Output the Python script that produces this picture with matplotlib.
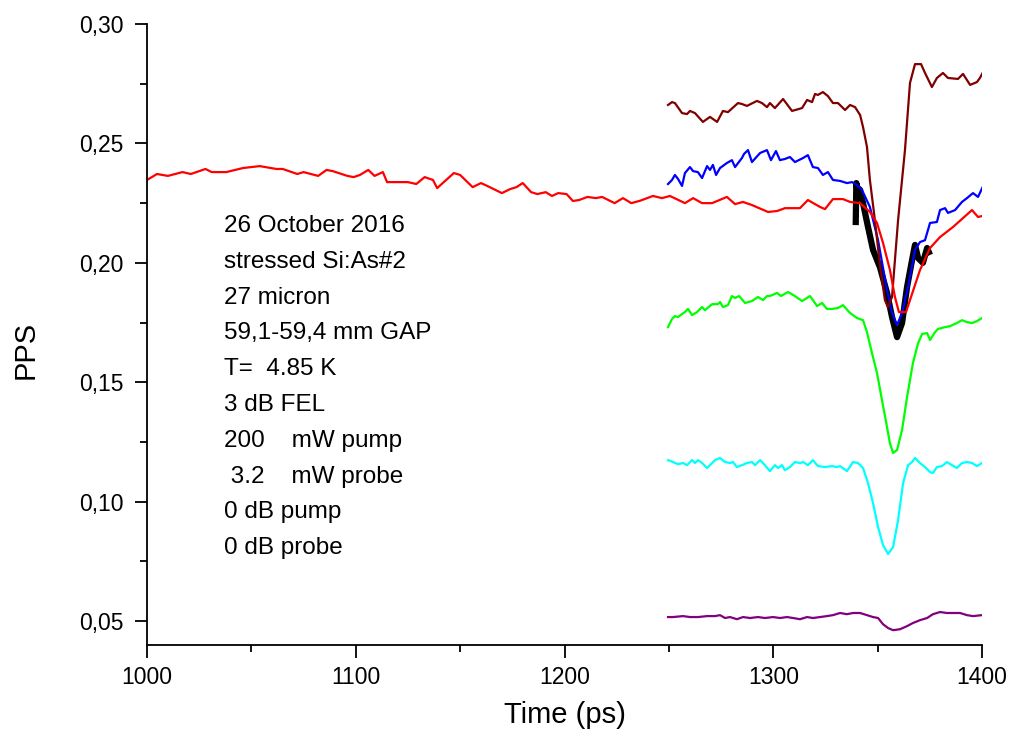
import matplotlib
matplotlib.use("Agg")
import matplotlib.pyplot as plt
from matplotlib.ticker import MultipleLocator, FuncFormatter

plt.rcParams['font.family'] = ['Liberation Sans', 'DejaVu Sans']

# red trace (long scan)
red_t = [1000, 1004.8, 1010, 1017, 1021, 1028, 1031, 1038, 1046, 1054, 1062, 1065, 1072, 1075,
         1082, 1086, 1089, 1096, 1099, 1102, 1106, 1109, 1113, 1115, 1125, 1129, 1133, 1137,
         1139, 1147, 1150, 1156, 1160, 1163, 1170, 1174, 1177, 1180, 1184, 1187, 1191, 1194,
         1197, 1201, 1204, 1207, 1211, 1215, 1218, 1224, 1228, 1232, 1236.2, 1242.4, 1246.7,
         1250.5, 1257.7, 1261.6, 1265.9, 1270.7, 1277.8, 1281.7, 1285.5, 1289.8, 1297.5,
         1301.8, 1305.6, 1312.8, 1316.6, 1322.4, 1324.8, 1328.6, 1333.4, 1336.8, 1341.6,
         1346.3, 1349.7, 1352.6, 1355.9, 1358.3, 1360.2, 1363.6, 1365.5, 1370.3, 1375.1,
         1379.9, 1386.1, 1395.2, 1398.1, 1400]
red_v = [0.2347, 0.2372, 0.2364, 0.2380, 0.2372, 0.2393, 0.2380, 0.2380, 0.2397, 0.2405, 0.2393,
         0.2393, 0.2372, 0.2380, 0.2364, 0.2389, 0.2384, 0.2364, 0.2359, 0.2368, 0.2389, 0.2364,
         0.2380, 0.2338, 0.2338, 0.2330, 0.2359, 0.2347, 0.2313, 0.2376, 0.2368, 0.2317, 0.2334,
         0.2322, 0.2292, 0.2309, 0.2317, 0.2334, 0.2296, 0.2288, 0.2296, 0.2280, 0.2292, 0.2288,
         0.2259, 0.2263, 0.2276, 0.2271, 0.2276, 0.2250, 0.2271, 0.2250, 0.2260, 0.2280, 0.2271,
         0.2280, 0.2250, 0.2271, 0.2250, 0.2250, 0.2276, 0.2246, 0.2255, 0.2242, 0.2213, 0.2217,
         0.2229, 0.2229, 0.2263, 0.2234, 0.2225, 0.2267, 0.2267, 0.2255, 0.2250, 0.2213, 0.2167,
         0.2083, 0.1970, 0.1857, 0.1794, 0.1794, 0.1844, 0.1970, 0.2062, 0.2108, 0.2150, 0.2221,
         0.2192, 0.2196]

# dark red trace
brown_t = [1249.6, 1251.5, 1252.9, 1256.3, 1258.7, 1260.1, 1262.5, 1266.3, 1269.7, 1273.1, 1275.9,
           1278.3, 1283.1, 1285.0, 1287.4, 1292.2, 1294.6, 1297.0, 1298.4, 1300.8, 1304.7, 1309.0,
           1313.8, 1316.2, 1318.6, 1320.0, 1321.4, 1323.8, 1326.2, 1328.6, 1331.0, 1334.4, 1336.8,
           1339.2, 1341.6, 1343.0, 1344.9, 1346.3, 1348.7, 1351.1, 1353.5, 1354.9, 1356.9, 1359.8,
           1363.1, 1365.5, 1367.9, 1370.8, 1372.7, 1376.0, 1378.4, 1381.3, 1383.7, 1388.5, 1390.9,
           1394.3, 1397.6, 1399.0, 1400.3]
brown_v = [0.2661, 0.2673, 0.2669, 0.2627, 0.2623, 0.2636, 0.2627, 0.2590, 0.2611, 0.2590, 0.2636,
           0.2631, 0.2669, 0.2665, 0.2657, 0.2678, 0.2669, 0.2652, 0.2669, 0.2648, 0.2686, 0.2636,
           0.2648, 0.2682, 0.2673, 0.2707, 0.2703, 0.2715, 0.2698, 0.2669, 0.2669, 0.2640, 0.2661,
           0.2652, 0.2619, 0.2569, 0.2485, 0.2347, 0.2179, 0.1991, 0.1844, 0.1815, 0.1857, 0.2179,
           0.2472, 0.2753, 0.2832, 0.2832, 0.2795, 0.2736, 0.2774, 0.2795, 0.2774, 0.2770, 0.2791,
           0.2745, 0.2757, 0.2774, 0.2795]

# blue trace
blue_t = [1249.6, 1251.5, 1252.9, 1254.4, 1256.3, 1257.7, 1260.1, 1261.6, 1263.9, 1265.9, 1268.3,
          1269.7, 1271.1, 1272.6, 1274.5, 1277.8, 1280.2, 1281.7, 1285.0, 1286.0, 1287.9, 1289.8,
          1293.7, 1297.0, 1298.9, 1301.3, 1303.2, 1305.6, 1308.0, 1310.4, 1314.3, 1316.6, 1319.0,
          1321.4, 1323.8, 1326.2, 1328.6, 1332.0, 1335.3, 1337.7, 1340.1, 1342.5, 1346.3, 1350.2,
          1354.5, 1356.9, 1359.3, 1361.7, 1364.6, 1367.9, 1370.3, 1372.7, 1375.1, 1378.4, 1379.9,
          1382.3, 1383.7, 1387.1, 1390.4, 1392.8, 1395.7, 1398.1, 1400.3]
blue_v = [0.2330, 0.2347, 0.2368, 0.2351, 0.2322, 0.2376, 0.2401, 0.2384, 0.2380, 0.2355, 0.2405,
          0.2389, 0.2410, 0.2368, 0.2397, 0.2418, 0.2430, 0.2401, 0.2439, 0.2456, 0.2472, 0.2422,
          0.2460, 0.2472, 0.2430, 0.2468, 0.2430, 0.2435, 0.2443, 0.2422, 0.2439, 0.2451, 0.2401,
          0.2397, 0.2368, 0.2380, 0.2347, 0.2343, 0.2334, 0.2338, 0.2326, 0.2305, 0.2234, 0.2095,
          0.1886, 0.1790, 0.1740, 0.1790, 0.1899, 0.2054, 0.2087, 0.2095, 0.2167, 0.2171, 0.2221,
          0.2229, 0.2209, 0.2221, 0.2255, 0.2271, 0.2292, 0.2276, 0.2317]

# black trace (short scan)
black_t = [1339.5, 1339.8, 1340.1, 1341.6, 1343.0, 1345.4, 1347.8, 1351.1, 1354.5, 1356.9, 1359.3,
           1361.7, 1364.1, 1366.5, 1367.9, 1369.4, 1371.7, 1373.7, 1375.1]
black_v = [0.2158, 0.2334, 0.2317, 0.2305, 0.2250, 0.2150, 0.2054, 0.1982, 0.1874, 0.1773, 0.1689,
           0.1748, 0.1899, 0.2012, 0.2075, 0.2020, 0.2000, 0.2062, 0.2033]

# green trace
green_t = [1249.6, 1251.5, 1252.9, 1254.4, 1256.3, 1257.7, 1259.2, 1261.1, 1263.5, 1265.9, 1267.3,
           1270.7, 1273.5, 1274.5, 1275.9, 1278.3, 1280.2, 1281.7, 1283.6, 1286.5, 1289.8, 1292.7,
           1295.1, 1297.0, 1298.4, 1301.8, 1303.7, 1307.1, 1310.4, 1313.8, 1317.6, 1321.0, 1323.4,
           1325.7, 1328.1, 1331.0, 1333.4, 1336.8, 1340.1, 1343.0, 1344.9, 1347.3, 1349.7, 1352.1,
           1354.5, 1355.9, 1357.4, 1359.3, 1361.7, 1364.1, 1366.9, 1369.4, 1371.3, 1373.7, 1375.1,
           1377.5, 1378.9, 1382.3, 1384.7, 1388.0, 1390.4, 1392.8, 1395.2, 1397.6, 1400.0]
green_v = [0.1731, 0.1765, 0.1777, 0.1773, 0.1786, 0.1794, 0.1807, 0.1781, 0.1794, 0.1815, 0.1802,
           0.1827, 0.1827, 0.1836, 0.1815, 0.1823, 0.1861, 0.1853, 0.1861, 0.1832, 0.1840, 0.1857,
           0.1844, 0.1861, 0.1861, 0.1874, 0.1861, 0.1878, 0.1861, 0.1840, 0.1861, 0.1819, 0.1832,
           0.1807, 0.1807, 0.1811, 0.1823, 0.1790, 0.1769, 0.1760, 0.1710, 0.1622, 0.1539, 0.1425,
           0.1312, 0.1245, 0.1204, 0.1216, 0.1300, 0.1438, 0.1580, 0.1664, 0.1702, 0.1706, 0.1677,
           0.1710, 0.1723, 0.1731, 0.1735, 0.1748, 0.1760, 0.1752, 0.1748, 0.1756, 0.1769]

# cyan trace
cyan_t = [1249.6, 1252.0, 1254.4, 1256.8, 1258.7, 1261.1, 1262.5, 1264.0, 1265.9, 1268.3, 1270.7,
          1272.1, 1274.5, 1276.9, 1279.3, 1280.7, 1282.6, 1285.0, 1287.4, 1289.8, 1291.3, 1293.7,
          1296.0, 1298.4, 1300.8, 1302.3, 1304.2, 1305.6, 1308.0, 1310.4, 1312.8, 1314.3, 1316.6,
          1319.0, 1321.4, 1324.8, 1328.1, 1330.5, 1332.0, 1335.3, 1338.2, 1340.6, 1343.0, 1345.4,
          1347.8, 1350.2, 1352.6, 1355.0, 1357.4, 1359.8, 1362.2, 1364.6, 1366.5, 1367.9, 1370.3,
          1372.7, 1375.1, 1376.5, 1378.4, 1380.8, 1383.2, 1385.6, 1388.0, 1390.4, 1392.8, 1395.2,
          1397.6, 1400.0]
cyan_v = [0.1174, 0.1166, 0.1157, 0.1162, 0.1153, 0.1174, 0.1162, 0.1174, 0.1162, 0.1141, 0.1162,
          0.1174, 0.1183, 0.1166, 0.1162, 0.1166, 0.1145, 0.1153, 0.1162, 0.1166, 0.1153, 0.1174,
          0.1153, 0.1128, 0.1153, 0.1141, 0.1153, 0.1132, 0.1145, 0.1166, 0.1162, 0.1166, 0.1153,
          0.1174, 0.1149, 0.1145, 0.1149, 0.1145, 0.1149, 0.1128, 0.1166, 0.1162, 0.1141, 0.1078,
          0.0994, 0.0894, 0.0818, 0.0781, 0.0810, 0.0923, 0.1078, 0.1153, 0.1166, 0.1183, 0.1162,
          0.1145, 0.1124, 0.1120, 0.1145, 0.1149, 0.1166, 0.1153, 0.1141, 0.1162, 0.1166, 0.1162,
          0.1149, 0.1162]

# purple trace
purple_t = [1249.6, 1252.0, 1256.8, 1260.1, 1264.0, 1268.3, 1272.1, 1274.5, 1276.9, 1279.3, 1282.6,
            1285.5, 1288.9, 1292.7, 1296.0, 1299.9, 1303.2, 1306.6, 1309.5, 1312.8, 1316.2, 1319.0,
            1322.4, 1325.7, 1328.6, 1332.0, 1335.3, 1338.2, 1341.6, 1344.9, 1347.8, 1350.2, 1352.6,
            1355.0, 1357.4, 1360.7, 1364.1, 1366.9, 1370.3, 1373.7, 1376.5, 1379.9, 1383.2, 1386.1,
            1389.5, 1392.8, 1395.7, 1400.0]
purple_v = [0.0517, 0.0517, 0.0521, 0.0517, 0.0517, 0.0521, 0.0521, 0.0525, 0.0513, 0.0517, 0.0508,
            0.0517, 0.0513, 0.0517, 0.0513, 0.0517, 0.0513, 0.0517, 0.0513, 0.0508, 0.0517, 0.0513,
            0.0517, 0.0521, 0.0525, 0.0534, 0.0529, 0.0534, 0.0534, 0.0525, 0.0517, 0.0513, 0.0487,
            0.0471, 0.0462, 0.0466, 0.0479, 0.0492, 0.0504, 0.0513, 0.0529, 0.0538, 0.0534, 0.0534,
            0.0534, 0.0525, 0.0521, 0.0525]

notes = ["26 October 2016", "stressed Si:As#2", "27 micron", "59,1-59,4 mm GAP", "T=  4.85 K",
         "3 dB FEL", "200    mW pump", " 3.2    mW probe", "0 dB pump", "0 dB probe"]

fig = plt.figure(figsize=(10.1, 7.38), dpi=100)
ax = fig.add_axes([147 / 1010, 93 / 738, 835 / 1010, 621 / 738])

ax.plot(green_t, green_v, color='#00ff00', lw=1.6)
ax.plot(cyan_t, cyan_v, color='#00ffff', lw=1.6)
ax.plot(purple_t, purple_v, color='#800080', lw=1.6)
ax.plot(black_t, black_v, color='black', lw=4.5, solid_capstyle='butt')
ax.plot(blue_t, blue_v, color='#0000ff', lw=1.6)
ax.plot(brown_t, brown_v, color='#800000', lw=1.6)
ax.plot(red_t, red_v, color='#ff0000', lw=1.6)

ax.set_xlim(1000, 1400)
ax.set_ylim(0.04, 0.30)

ax.xaxis.set_major_locator(MultipleLocator(100))
ax.xaxis.set_minor_locator(MultipleLocator(50))
ax.yaxis.set_major_locator(MultipleLocator(0.05))
ax.yaxis.set_minor_locator(MultipleLocator(0.025))
ax.yaxis.set_major_formatter(FuncFormatter(lambda v, p: f"{v:.2f}".replace('.', ',')))

for side in ['top', 'right']:
    ax.spines[side].set_visible(False)
for side in ['left', 'bottom']:
    ax.spines[side].set_linewidth(1.3)

ax.tick_params(which='major', direction='out', length=9, width=1.3, labelsize=16.5)
ax.tick_params(which='minor', direction='out', length=5, width=1.3)
ax.tick_params(axis='x', pad=6)
ax.tick_params(axis='y', pad=8)

ax.set_xlabel("Time (ps)", fontsize=21)
ax.set_ylabel("PPS", fontsize=21)
ax.xaxis.set_label_coords(0.5, (645 - 701) / 621)
ax.yaxis.set_label_coords((40 - 147) / 835, (645 - 350) / 621)

# annotation block, one line at a time
y0 = (645 - 226) / 621
step = 35.8 / 621
for i, line in enumerate(notes):
    ax.text(77 / 835, y0 - i * step, line, transform=ax.transAxes, fontsize=17.5,
            ha='left', va='center')

fig.savefig("out.png", dpi=100)
